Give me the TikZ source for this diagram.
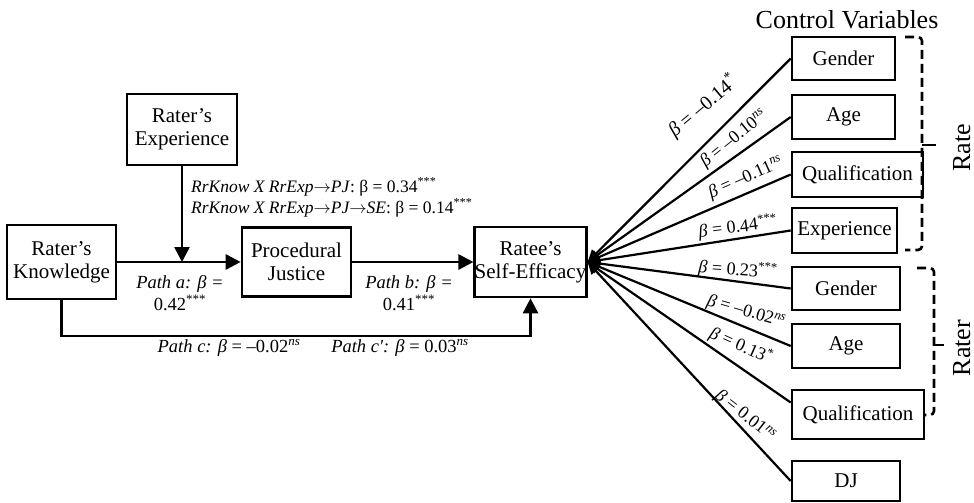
\documentclass[tikz,border=0pt]{standalone}
\usepackage{fontspec}
\setmainfont{Liberation Serif}
\usetikzlibrary{arrows.meta}
\newcommand{\sig}[1]{\textsuperscript{#1}}
\newcommand{\nsig}{\textsuperscript{\textit{ns}}}
\newcommand{\ar}{$\rightarrow$}
\begin{document}
\begin{tikzpicture}[x=1pt,y=-1pt,
  box/.style={draw, line width=2.6pt, inner sep=0pt, align=center,
    font=\fontsize{21}{23}\selectfont},
  conn/.style={line width=2.6pt, -{Triangle[length=15pt,width=15pt]}},
  ray/.style={line width=2.2pt, -{Triangle[length=12pt,width=11pt]}},
  lbl/.style={font=\fontsize{18.5}{22}\selectfont, inner sep=0pt},
  mlbl/.style={font=\fontsize{17.5}{21}\selectfont, inner sep=0pt},
  rlbl/.style={font=\fontsize{18}{20}\selectfont, inner sep=0pt},
  bigtxt/.style={font=\fontsize{26}{28}\selectfont, inner sep=0pt},
  sidetxt/.style={bigtxt, rotate=90, anchor=base, text depth=0pt},
  bracket/.style={line width=2.6pt, dash pattern=on 9pt off 5pt, rounded corners=4pt}]
\useasboundingbox (0,0) rectangle (974,503);

% mediation model
\node[box, minimum width=109pt, minimum height=74pt] (know)  at (61.5,262)  {Rater’s\\Knowledge};
\node[box, minimum width=110pt, minimum height=71pt] (exp)   at (182,129.5) {Rater’s\\Experience};
\node[box, minimum width=109pt, minimum height=69pt] (pj)    at (296.5,262) {Procedural\\Justice};
\node[box, minimum width=109pt, minimum height=70pt] (ratee) at (530.5,262) {Ratee’s\\Self-Efficacy};

% control variables
\node[box, minimum width=103pt, minimum height=43pt] (g1) at (843.5,58.5)  {Gender};
\node[box, minimum width=103pt, minimum height=44pt] (a1) at (843.5,117)   {Age};
\node[box, minimum width=131pt, minimum height=45pt] (q1) at (857.5,174.5) {Qualification};
\node[box, minimum width=105pt, minimum height=45pt] (e1) at (844.5,230.5) {Experience};
\node[box, minimum width=108pt, minimum height=43pt] (g2) at (846,288.5)   {Gender};
\node[box, minimum width=108pt, minimum height=44pt] (a2) at (846,346)     {Age};
\node[box, minimum width=132pt, minimum height=49pt] (q2) at (858,414.5)   {Qualification};
\node[box, minimum width=108pt, minimum height=40pt] (dj) at (846,481)     {DJ};

% main paths
\coordinate (cbase) at (0,336);
\draw[conn] (know.east) -- (pj.west);
\draw[conn] (exp.south) -- (exp.south |- know.east);
\draw[conn] (pj.east) -- (ratee.west);
\draw[conn] (know.south) -- (know.south |- cbase) -- (ratee.south |- cbase) -- (ratee.south);

% control paths
\foreach \n in {g1,a1,q1,e1,g2,a2,dj}
  \draw[ray] (\n.west) -- (ratee.east);
\draw[ray] ([yshift=12pt]q2.west) -- (ratee.east);

% path labels
\node[mlbl, anchor=base west] at (191,192) {\textit{RrKnow X RrExp\ar PJ}: β = 0.34\sig{***}};
\node[mlbl, anchor=base west] at (191,213) {\textit{RrKnow X RrExp\ar PJ\ar SE}: β = 0.14\sig{***}};
\node[lbl, anchor=base] at (180,288) {\textit{Path a: β =}};
\node[lbl, anchor=base] at (180,310) {0.42\sig{***}};
\node[lbl, anchor=base] at (409,288) {\textit{Path b: β =}};
\node[lbl, anchor=base] at (409,310) {0.41\sig{***}};
\node[lbl, anchor=base] at (229,352) {\textit{Path c: β} = –0.02\nsig};
\node[lbl, anchor=base] at (400,352) {\textit{Path c′: β} = 0.03\nsig};

% control path coefficients
\node[rlbl, font=\fontsize{20}{22}\selectfont, rotate=40] at (703,106) {\textit{β} = –0.14\sig{*}};
\node[rlbl, rotate=39]  at (734,139) {\textit{β} = –0.10\nsig};
\node[rlbl, rotate=24]  at (746,178) {\textit{β} = –0.11\nsig};
\node[rlbl, rotate=7]   at (738,227) {\textit{β} = 0.44\sig{***}};
\node[rlbl, rotate=-4]  at (738,270) {\textit{β} = 0.23\sig{***}};
\node[rlbl, rotate=-16] at (746,312) {\textit{β} = –0.02\nsig};
\node[rlbl, rotate=-24] at (741,346) {\textit{β} = 0.13\sig{*}};
\node[rlbl, rotate=-38] at (745,416) {\textit{β} = 0.01\nsig};

% grouping of the control variables
\node[bigtxt, anchor=base] (cv) at (847,29) {Control Variables};
\draw[bracket] (905,37) -- (922,37) -- (922,250) -- (905,250);
\draw[line width=2.6pt] (922,145) -- (936,145);
\node[sidetxt] (rate) at (970,148) {Rate};
\draw[bracket] (917,268) -- (934,268) -- (934,415) -- (925,415);
\draw[line width=2.6pt] (934,345) -- (944,345);
\node[sidetxt] (rater) at (970,348) {Rater};
\end{tikzpicture}
\end{document}
